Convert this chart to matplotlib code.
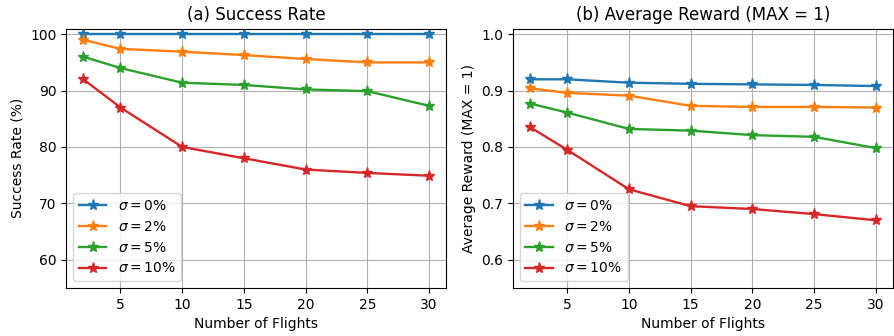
import numpy as np
import matplotlib
matplotlib.use('Agg')
import matplotlib.pyplot as plt

flights = [2, 5, 10, 15, 20, 25, 30]
sigmas = ['0', '2', '5', '10']

success_0 = [100, 100, 100, 100, 100, 100, 100]
success_2 = [99.0, 97.4, 96.9, 96.3, 95.6, 95.0, 95.0]
success_5 = [96.0, 94.0, 91.4, 91.0, 90.2, 89.9, 87.3]
success_10 = [92.0, 87.0, 80.0, 78.0, 76.0, 75.4, 74.9]

reward_0 = [0.920, 0.920, 0.914, 0.912, 0.911, 0.910, 0.908]
reward_2 = [0.904, 0.896, 0.891, 0.873, 0.871, 0.871, 0.870]
reward_5 = [0.877, 0.861, 0.832, 0.829, 0.821, 0.818, 0.798]
reward_10 = [0.835, 0.795, 0.725, 0.695, 0.690, 0.681, 0.670]

success = [success_0, success_2, success_5, success_10]
reward = [reward_0, reward_2, reward_5, reward_10]

fig, ax = plt.subplots(1, 2, figsize=(8.94, 3.36), dpi=100)
fig.subplots_adjust(left=0.074, right=0.999, bottom=0.143, top=0.915, wspace=0.175)

for s, ys in zip(sigmas, success):
    ax[0].plot(flights, ys, marker='*', markersize=8, linewidth=1.7,
               label=r'$\sigma = %s\%%$' % s)
ax[0].set_ylim(55, 101)
ax[0].set_yticks([60, 70, 80, 90, 100])
ax[0].set_ylabel('Success Rate (%)')
ax[0].set_title('(a) Success Rate', fontsize=12)

for s, ys in zip(sigmas, reward):
    ax[1].plot(flights, ys, marker='*', markersize=8, linewidth=1.7,
               label=r'$\sigma = %s\%%$' % s)
ax[1].set_ylim(0.55, 1.01)
ax[1].set_yticks([0.6, 0.7, 0.8, 0.9, 1.0])
ax[1].set_ylabel('Average Reward (MAX = 1)')
ax[1].set_title('(b) Average Reward (MAX = 1)', fontsize=12)

for a in ax:
    a.set_xticks([5, 10, 15, 20, 25, 30])
    a.set_xlabel('Number of Flights')
    a.grid(True)
    a.legend(loc='lower left', fontsize=10)

fig.savefig('out.png', dpi=100)
